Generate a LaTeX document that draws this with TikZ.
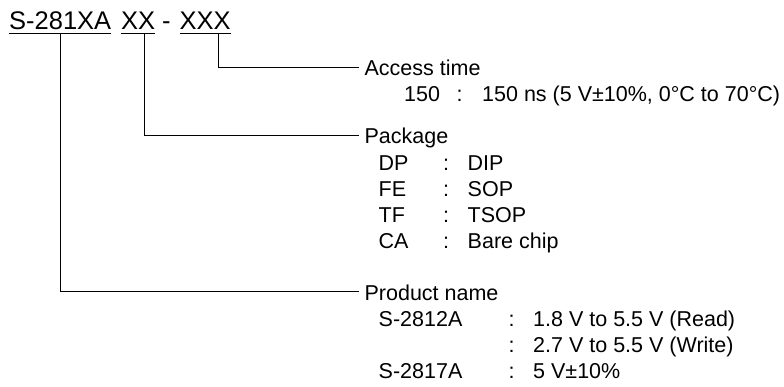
\documentclass[tikz,border=0pt]{standalone}
\usepackage{fontspec}
\setmainfont{Liberation Sans}
\begin{document}
\begin{tikzpicture}[
        x=1pt, y=-1pt,
        every node/.style={inner sep=0pt, anchor=base west,
            font=\fontsize{21.5}{26}\selectfont},
        code/.style={font=\fontsize{25.5}{30}\selectfont},
        head/.style={inner xsep=5pt, text height=17pt, text depth=0pt},
        rule/.style={line width=1.3pt},
        link/.style={line width=1.5pt}
      ]
      \useasboundingbox (0,0) rectangle (784,387);

      \node[code] (name) at (9,30)     {S-281XA};
      \node[code] (pack) at (121,30)   {XX};
      \node[code] (dash) at (162,30)   {-};
      \node[code] (time) at (179.5,30) {XXX};

      \foreach \n in {name, pack, time}{
          \draw[rule] ([yshift=-3.4pt]\n.base west) -- ([yshift=-3.4pt]\n.base east);
        }

      \coordinate (nametap) at (60.3,33.4);
      \coordinate (packtap) at (144.7,33.4);
      \coordinate (timetap) at (218.6,33.4);

      \node[head] (timehead) at (359.4,76)  {Access time};
      \node[head] (packhead) at (359.4,144) {Package};
      \node[head] (namehead) at (359.4,300) {Product name};

      \draw[link] (timetap) |- (timehead.west);
      \draw[link] (packtap) |- (packhead.west);
      \draw[link] (nametap) |- (namehead.west);

      \node (tcode) at (404,101.7)  {150};
      \node (tcol)  at (456.5,101.7) {:};
      \node (tval)  at (482,101.7)  {150 ns (5 V±10\%, 0°C to 70°C)};

      \foreach \i/\y/\c/\v in {1/170.8/DP/DIP, 2/196.8/FE/SOP,
          3/222.5/TF/TSOP, 4/248.5/CA/Bare chip}{
          \node (pk\i)  at (378.5,\y) {\c};
          \node (pkc\i) at (443,\y)   {:};
          \node (pkv\i) at (467.5,\y) {\v};
        }

      \node (s12) at (378.5,326) {S-2812A};
      \node (s17) at (378.5,378) {S-2817A};
      \foreach \i/\y/\v in {1/326/1.8 V to 5.5 V (Read),
          2/352/2.7 V to 5.5 V (Write), 3/378/5 V±10\%}{
          \node (pnc\i) at (508.5,\y) {:};
          \node (pnv\i) at (533,\y)   {\v};
        }
    \end{tikzpicture}
\end{document}
